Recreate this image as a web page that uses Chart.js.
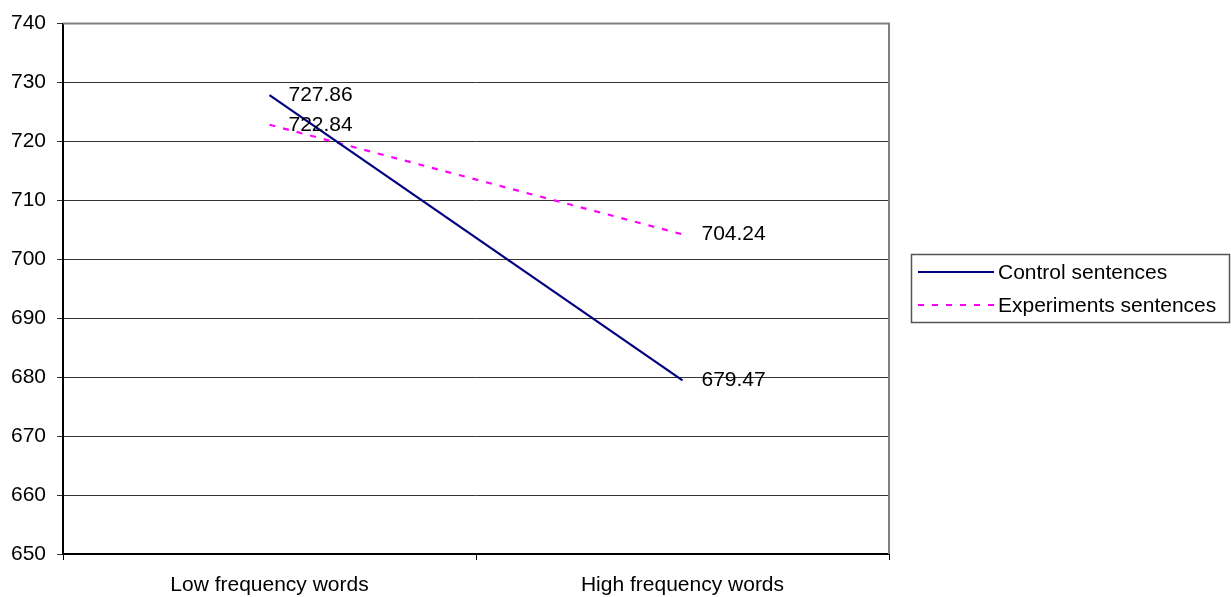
<!DOCTYPE html>
<html>
<head>
<meta charset="utf-8">
<style>
  html, body { margin: 0; padding: 0; background: #fff; }
  #wrap { width: 1231px; height: 597px; }
</style>
<script src="https://cdn.jsdelivr.net/npm/chart.js@4/dist/chart.umd.min.js"></script>
</head>
<body>
<div id="wrap"><canvas id="c" width="1231" height="597"></canvas></div>
<script>
// Reading times by word frequency
const categories = ['Low frequency words', 'High frequency words'];
const controlValues = [727.86, 679.47];
const experimentValues = [722.84, 704.24];
const seriesNames = ['Control sentences', 'Experiments sentences'];
const yMin = 650, yMax = 740, yStep = 10;

const FONT = '"Liberation Sans", Arial, sans-serif';
const FONT_SIZE = 21;

// Value labels to the right of each point
const valueLabels = {
  id: 'valueLabels',
  afterDatasetsDraw(chart) {
    const ctx = chart.ctx;
    ctx.save();
    ctx.font = FONT_SIZE + 'px ' + FONT;
    ctx.fillStyle = '#000';
    ctx.textAlign = 'left';
    ctx.textBaseline = 'middle';
    chart.data.datasets.forEach((ds, i) => {
      const meta = chart.getDatasetMeta(i);
      meta.data.forEach((pt, j) => {
        ctx.fillText(ds.data[j].toFixed(2), pt.x + 19, pt.y);
      });
    });
    ctx.restore();
  }
};

// Grey frame around the plot area, drawn under the axes
const plotFrame = {
  id: 'plotFrame',
  beforeDatasetsDraw(chart) {
    const a = chart.chartArea;
    const ctx = chart.ctx;
    ctx.save();
    ctx.strokeStyle = '#808080';
    ctx.lineWidth = 2;
    ctx.beginPath();
    ctx.moveTo(a.left, a.top);
    ctx.lineTo(a.right, a.top);
    ctx.lineTo(a.right, a.bottom);
    ctx.stroke();
    ctx.restore();
  }
};

// Boxed legend at the right of the plot
const boxLegend = {
  id: 'boxLegend',
  afterDraw(chart) {
    const ctx = chart.ctx;
    const bx = 911, by = 254, bw = 318, bh = 68;
    ctx.save();
    ctx.strokeStyle = '#555';
    ctx.lineWidth = 1.5;
    ctx.strokeRect(bx + 0.5, by + 0.5, bw, bh);
    ctx.font = FONT_SIZE + 'px ' + FONT;
    ctx.textBaseline = 'middle';
    ctx.textAlign = 'left';
    const rows = [272, 305];
    chart.data.datasets.forEach((ds, i) => {
      const y = rows[i];
      ctx.strokeStyle = ds.borderColor;
      ctx.lineWidth = ds.borderWidth;
      ctx.setLineDash(ds.borderDash || []);
      ctx.beginPath();
      ctx.moveTo(918, y);
      ctx.lineTo(994, y);
      ctx.stroke();
      ctx.setLineDash([]);
      ctx.fillStyle = '#000';
      ctx.fillText(ds.label, 998, y + 1);
    });
    ctx.restore();
  }
};

new Chart(document.getElementById('c'), {
  type: 'line',
  data: {
    labels: categories,
    datasets: [
      {
        label: seriesNames[0],
        data: controlValues,
        borderColor: '#000080',
        borderWidth: 2.2,
        pointRadius: 0,
        tension: 0,
        fill: false
      },
      {
        label: seriesNames[1],
        data: experimentValues,
        borderColor: '#FF00FF',
        borderWidth: 2.2,
        borderDash: [6, 8],
        pointRadius: 0,
        tension: 0,
        fill: false
      }
    ]
  },
  options: {
    responsive: false,
    animation: false,
    devicePixelRatio: 1,
    layout: { padding: { left: 0, top: 22, right: 342, bottom: 0 } },
    plugins: {
      legend: { display: false },
      tooltip: { enabled: false },
      title: { display: false }
    },
    scales: {
      x: {
        type: 'category',
        offset: true,
        afterFit(scale) { scale.height = 43; },
        grid: {
          offset: true,
          drawOnChartArea: false,
          drawTicks: true,
          tickLength: 6,
          color: '#000',
          lineWidth: 1
        },
        border: { display: true, color: '#000', width: 2 },
        ticks: {
          color: '#000',
          font: { family: FONT, size: FONT_SIZE },
          padding: 13,
          maxRotation: 0,
          autoSkip: false
        }
      },
      y: {
        min: yMin,
        max: yMax,
        afterFit(scale) { scale.width = 63; },
        grid: {
          color: '#333',
          lineWidth: 1,
          drawTicks: true,
          tickLength: 6
        },
        border: { display: true, color: '#000', width: 2 },
        ticks: {
          stepSize: yStep,
          color: '#000',
          font: { family: FONT, size: FONT_SIZE },
          padding: 11
        }
      }
    }
  },
  plugins: [plotFrame, valueLabels, boxLegend]
});
</script>
</body>
</html>
